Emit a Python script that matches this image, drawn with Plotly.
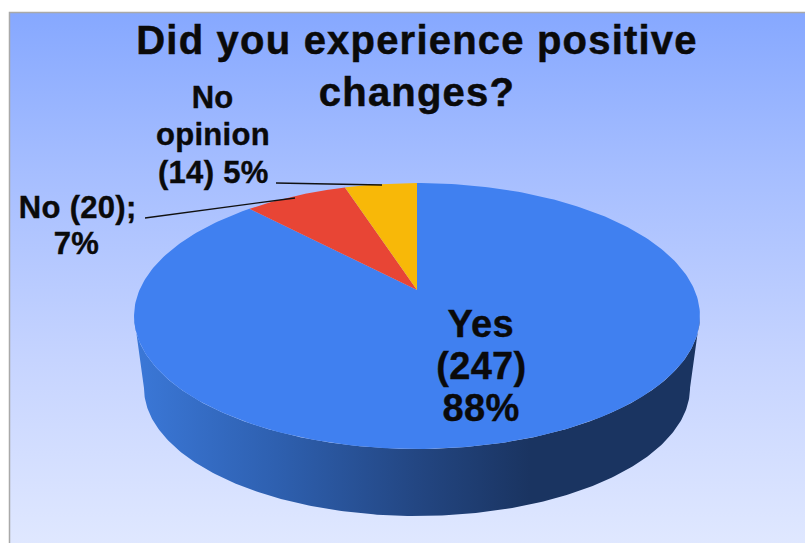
import numpy as np
import plotly.graph_objects as go

# --- data ---
categories = ["Yes", "No", "No opinion"]
counts = [247, 20, 14]
shares = ["88%", "7%", "5%"]
slice_colors = ["#4080F0", "#E84535", "#F8B808"]
title_text = "Did you experience positive<br>changes?"

# --- page geometry (px) ---
W, H = 805, 543
FRAME_X, FRAME_Y = 9.5, 12.5
CX, CY = 417.0, 290.0       # projected pie centre
A, B, K = 277.5, 127.9, 0.1955  # perspective projection of the disc
SIDE_SCALE, SIDE_BASE = 0.965, 362.6
FONT = "Liberation Sans"


def project(theta, scale=1.0, base=CY):
    """theta clockwise from 12 o'clock; circle -> perspective ellipse."""
    w = 1 + K * np.cos(theta)
    return CX + scale * A * np.sin(theta) / w, base - scale * B * np.cos(theta) / w


fig = go.Figure()

# background panel (runs off the right and bottom of the page)
fig.add_trace(go.Scatter(
    x=[FRAME_X, W + 4, W + 4, FRAME_X, FRAME_X], y=[FRAME_Y, FRAME_Y, H + 4, H + 4, FRAME_Y],
    mode="lines", fill="toself", line=dict(width=0, color="rgba(0,0,0,0)"),
    fillgradient=dict(type="vertical", colorscale=[
        [0, "#E0E8FF"], [0.35, "#C6D4FF"], [0.7, "#A6BEFF"], [1, "#86A8FF"]]),
    hoverinfo="skip", showlegend=False))
fig.add_trace(go.Scatter(
    x=[FRAME_X, FRAME_X, W + 4], y=[H + 4, FRAME_Y, FRAME_Y], mode="lines",
    line=dict(color="#A9A9A9", width=1.5), hoverinfo="skip", showlegend=False))

# side wall (front half of the rim)
tw = np.arccos(-K)
front = np.linspace(tw, 2 * np.pi - tw, 240)
tx, ty = project(front)
bx, by = project(front, SIDE_SCALE, SIDE_BASE)
fig.add_trace(go.Scatter(
    x=np.r_[tx, bx[::-1], tx[0]], y=np.r_[ty, by[::-1], ty[0]],
    mode="lines", fill="toself", line=dict(width=0, color="rgba(0,0,0,0)"),
    fillgradient=dict(type="horizontal", colorscale=[
        [0, "#3B78D8"], [0.25, "#2E60B0"], [0.50, "#234682"],
        [0.70, "#1A3461"], [1, "#1A3461"]]),
    hoverinfo="skip", showlegend=False))

# top face slices, in clockwise order from 12 o'clock
total = sum(counts)
edges = np.r_[0, np.cumsum(counts)] / total * 2 * np.pi
for name, col, a0, a1 in zip(categories, slice_colors, edges[:-1], edges[1:]):
    t = np.linspace(a0, a1, 300)
    x, y = project(t)
    fig.add_trace(go.Scatter(
        x=np.r_[CX, x, CX], y=np.r_[CY, y, CY], mode="lines", fill="toself",
        fillcolor=col, line=dict(width=0, color=col), name=name,
        hoverinfo="skip", showlegend=False))

# leader lines
for (x0, y0, x1, y1) in [(276, 183, 382, 185), (145, 218, 295, 198)]:
    fig.add_shape(type="line", x0=x0, y0=y0, x1=x1, y1=y1,
                  line=dict(color="#111111", width=1.3))

# labels, one annotation per line so the tight line pitch of the original holds
labels = [
    (categories[0], 481, 324, 38), (f"({counts[0]})", 481, 366, 38), (shares[0], 481, 408, 38),
    ("No", 212, 97, 31), ("opinion", 213, 134, 31), (f"({counts[2]}) {shares[2]}", 213, 172, 31),
    (f"No ({counts[1]});", 77, 207, 31), (shares[1], 76, 243, 31),
]
for text, x, y, size in labels:
    fig.add_annotation(x=x, y=y, text=text, showarrow=False, align="center",
                       xanchor="center", yanchor="middle",
                       font=dict(family=FONT, size=size, color="#0A0A0A", weight="bold"))

fig.update_layout(
    width=W, height=H, autosize=False, margin=dict(l=0, r=0, t=0, b=0),
    paper_bgcolor="white", plot_bgcolor="white", showlegend=False,
    title=dict(text=title_text, x=417 / W, xanchor="center", y=1 - 54 / H, yanchor="middle",
               font=dict(family=FONT, size=40, color="#0A0A0A", weight="bold")),
    xaxis=dict(range=[0, W], visible=False, fixedrange=True),
    yaxis=dict(range=[H, 0], visible=False, fixedrange=True),
)
post = ("document.body.style.margin='0';"
        "document.head.insertAdjacentHTML('beforeend',"
        "'<style>body{overflow:hidden}.gtitle{letter-spacing:1.2px;stroke:#0A0A0A;stroke-width:.5px}"
        ".annotation-text{letter-spacing:.3px;stroke:#0A0A0A;stroke-width:.4px}</style>');")
fig.write_html("out.html", config=dict(displayModeBar=False), include_plotlyjs=True, post_script=post)
